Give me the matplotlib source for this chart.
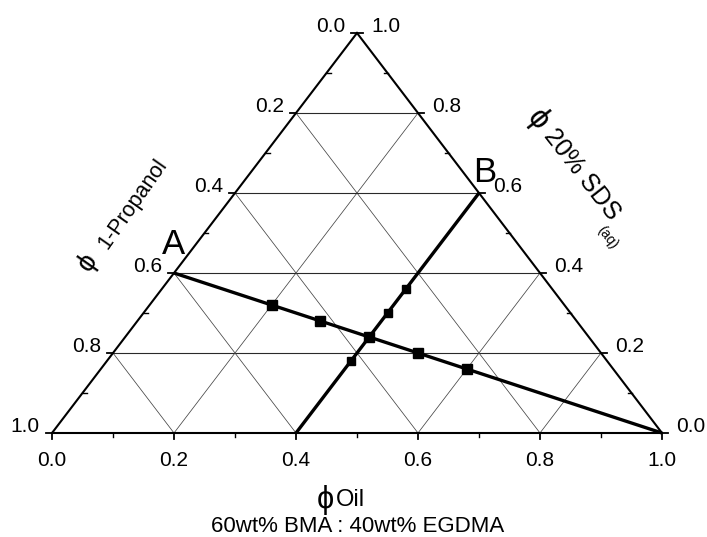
import matplotlib
matplotlib.use("Agg")
import matplotlib.pyplot as plt

plt.rcParams['font.family'] = ['Liberation Sans', 'DejaVu Sans']

# ---- data (ternary compositions: oil, SDS(aq) fraction; propanol = 1 - oil - sds) ----
line_a_oil = [0.0, 1.0]
line_a_sds = [0.4, 0.0]
line_b_oil = [0.4, 0.4]
line_b_sds = [0.6, 0.0]

series_a_oil = [0.2, 0.3, 0.4, 0.5, 0.6]
series_a_sds = [0.32, 0.28, 0.24, 0.20, 0.16]
series_b_oil = [0.4, 0.4, 0.4, 0.4]
series_b_sds = [0.36, 0.30, 0.24, 0.18]

tick_values = [0.0, 0.2, 0.4, 0.6, 0.8, 1.0]
bottom_labels = ['0.0', '0.2', '0.4', '0.6', '0.8', '1.0']
left_labels = ['1.0', '0.8', '0.6', '0.4', '0.2', '0.0']    # propanol, listed bottom->top
right_labels = ['0.0', '0.2', '0.4', '0.6', '0.8', '1.0']   # SDS, bottom->top
minor_values = [0.1, 0.3, 0.5, 0.7, 0.9]
grid_values = [0.2, 0.4, 0.6, 0.8]


def xy(oil, sds):
    oil = list(oil) if hasattr(oil, '__iter__') else [oil]
    sds = list(sds) if hasattr(sds, '__iter__') else [sds]
    return [o + s / 2 for o, s in zip(oil, sds)], list(sds)


W, H = 707, 537
fig = plt.figure(figsize=(W / 100, H / 100), dpi=100)
ax = fig.add_axes([52 / W, 104 / H, 610 / W, 400 / H])
ax.set_xlim(0, 1)
ax.set_ylim(0, 1)
ax.axis('off')

PX = 1 / 610
PY = 1 / 400

# grid
for g in grid_values:
    x, y = xy([0, 1 - g], [g, g])
    ax.plot(x, y, color='#2a2a2a', lw=0.8, clip_on=False, zorder=1)
    x, y = xy([g, g], [0, 1 - g])
    ax.plot(x, y, color='#444444', lw=0.55, clip_on=False, zorder=1)
    x, y = xy([1 - g, 0], [0, 1 - g])
    ax.plot(x, y, color='#444444', lw=0.55, clip_on=False, zorder=1)

# triangle frame
x, y = xy([0, 1, 0, 0], [0, 0, 1, 0])
ax.plot(x, y, color='black', lw=1.5, clip_on=False, zorder=2, solid_joinstyle='miter')

fs_tick = 15
for v, lab in zip(tick_values, bottom_labels):
    ax.plot([v, v], [0, -6 * PY], color='black', lw=1.3, clip_on=False)
    ax.annotate(lab, (v, 0), xytext=(0, -27 * 0.72), textcoords='offset points',
                ha='center', va='center', fontsize=fs_tick, annotation_clip=False)
for v in minor_values:
    ax.plot([v, v], [0, -4 * PY], color='black', lw=1.0, clip_on=False)

for h, lab in zip(tick_values, left_labels):
    px, py = h / 2, h
    ax.plot([px, px - 6 * PX], [py, py], color='black', lw=1.3, clip_on=False)
    ax.annotate(lab, (px, py), xytext=(-12 * 0.72, 6 * 0.72), textcoords='offset points',
                ha='right', va='center', fontsize=fs_tick, annotation_clip=False)
for h in minor_values:
    px, py = h / 2, h
    ax.plot([px, px + 4 * PX], [py, py], color='black', lw=1.0, clip_on=False)

for h, lab in zip(tick_values, right_labels):
    px, py = 1 - h / 2, h
    ax.plot([px, px + 6 * PX], [py, py], color='black', lw=1.3, clip_on=False)
    ax.annotate(lab, (px, py), xytext=(14 * 0.72, 6 * 0.72), textcoords='offset points',
                ha='left', va='center', fontsize=fs_tick, annotation_clip=False)
for h in minor_values:
    px, py = 1 - h / 2, h
    ax.plot([px, px - 4 * PX], [py, py], color='black', lw=1.0, clip_on=False)

# composition lines
x, y = xy(line_a_oil, line_a_sds)
ax.plot(x, y, color='black', lw=2.4, clip_on=False, zorder=3, solid_capstyle='butt')
x, y = xy(line_b_oil, line_b_sds)
ax.plot(x, y, color='black', lw=2.4, clip_on=False, zorder=3, solid_capstyle='butt')

# sample points
x, y = xy(series_a_oil, series_a_sds)
ax.plot(x, y, linestyle='none', marker='s', ms=6.5, color='black', zorder=4, clip_on=False)
x, y = xy(series_b_oil, series_b_sds)
ax.plot(x, y, linestyle='none', marker='s', ms=5.5, color='black', zorder=4, clip_on=False)

# A / B labels
ax_x, ax_y = xy(line_a_oil[0], line_a_sds[0])
ax.annotate('A', (ax_x[0], ax_y[0]), xytext=(0, 28 * 0.72), textcoords='offset points',
            ha='center', va='center', fontsize=25, annotation_clip=False)
bx, by = xy(line_b_oil[0], line_b_sds[0])
ax.annotate('B', (bx[0], by[0]), xytext=(6 * 0.72, 20 * 0.72), textcoords='offset points',
            ha='center', va='center', fontsize=25, annotation_clip=False)


def pos(px, py):
    return (px - 52) / 610, (433 - py) / 400


# axis titles
tx, ty = pos(88, 262)
ax.text(tx, ty, 'ϕ', rotation=55, rotation_mode='anchor', ha='center', va='center', fontsize=20)
tx, ty = pos(133, 204)
ax.text(tx, ty, '1-Propanol', rotation=55, rotation_mode='anchor', ha='center', va='center',
        fontsize=15.5)
tx, ty = pos(538, 120)
ax.text(tx, ty, 'ϕ', rotation=-52, rotation_mode='anchor', ha='center', va='center', fontsize=22)
tx, ty = pos(582, 174)
ax.text(tx, ty, '20% SDS', rotation=-52, rotation_mode='anchor', ha='center', va='center',
        fontsize=18)
tx, ty = pos(607, 237)
ax.text(tx, ty, '(aq)', rotation=-52, rotation_mode='anchor', ha='center', va='center',
        fontsize=10)
tx, ty = pos(325, 500)
ax.text(tx, ty, 'ϕ', ha='center', va='center', fontsize=22)
tx, ty = pos(336, 500)
ax.text(tx, ty, 'Oil', ha='left', va='center', fontsize=17)
tx, ty = pos(358, 527)
ax.text(tx, ty, '60wt% BMA : 40wt% EGDMA', ha='center', va='center', fontsize=16)

fig.savefig('out.png', dpi=100)
